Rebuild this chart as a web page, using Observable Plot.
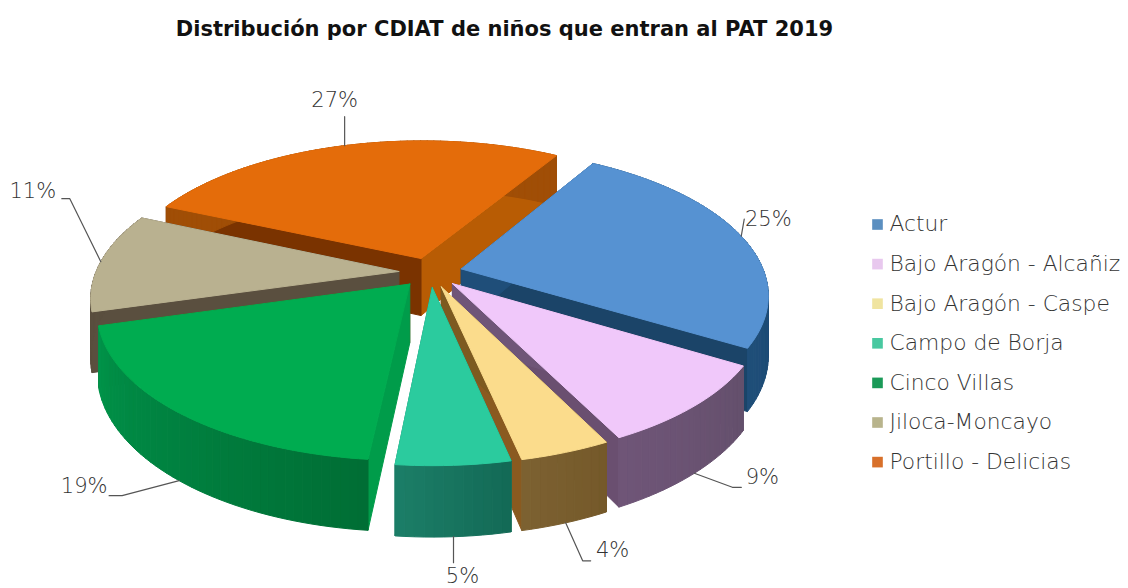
<!DOCTYPE html>
<html>
<head>
<meta charset="utf-8">
<script src="https://cdn.jsdelivr.net/npm/d3@7"></script>
<script src="https://cdn.jsdelivr.net/npm/@observablehq/plot@0.6"></script>
<style>html,body{margin:0;padding:0;background:#fff;overflow:hidden}svg{display:block}</style>
</head>
<body>
<div id="chart"></div>
<script>
const titleText = "Distribución por CDIAT de niños que entran al PAT 2019";
const categories = ["Actur","Bajo Aragón - Alcañiz","Bajo Aragón - Caspe","Campo de Borja","Cinco Villas","Jiloca-Moncayo","Portillo - Delicias"];
const percents = [25,9,4,5,19,11,27];
const topColors = ["#5692d2","#f0c8fa","#fbdc8c","#2bcb9e","#00ac50","#b9b190","#e46c0a"];
const legendColors = ["#5b8fc0","#e8c8ee","#f0e4a0","#48c8a0","#1a9a58","#b8b48c","#d8702a"];
const rimStart = ["#1f4e79","#6f5578","#7d6232","#1c7f68","#00944a","#5a4f3f","#a04e06"];
const rimEnd = ["#1a4468","#64506c","#75592a","#136a56","#006e35","#5a4f3f","#a04e06"];
const startFaces = ["#1f4e79","#6f5578","#7d5a20","#1c7f68","#009c4a","#5a4f3f","#7a3300"];
const endFaces = ["#1b4468","#6a4f70","#8a5a20","#1c7f68","#7a3a10","#584e42","#b85c04"];
const paintOrder = ["Portillo - Delicias","Jiloca-Moncayo","Actur","Bajo Aragón - Alcañiz","Cinco Villas","Bajo Aragón - Caspe","Campo de Borja"];
// leader layout: offsets from each slice's rim anchor, in pixels
const labelDx = [27,68,47,9,-95,-68,-10];
const labelDy = [-17,4,27,40,6,-70,-45];
const elbowDx = [3,38,17,0,-57,-31,0];
const elbowDy = [-17,14,38,26,15,-63,-29];
const stubDx = [0,9,8,0,-13,-8,0];

const W = 1128, H = 588;
const cx = 430, cy = 272, Rx = 303, Ry = 142, persp = 0.17, explode = 0.105, depth = 58;
const startAngle = 31 * Math.PI / 180;

const total = d3.sum(percents);
let acc = startAngle;
const slices = categories.map((name, i) => {
  const a0 = acc, a1 = acc + percents[i] / total * 2 * Math.PI;
  acc = a1;
  return {i, name, a0, a1, mid: (a0 + a1) / 2};
});
function proj(s, a, r, z) {
  const X = explode * Math.sin(s.mid) + r * Math.sin(a);
  const Y = -explode * Math.cos(s.mid) - r * Math.cos(a);
  const w = 1 - persp * Y;
  return [cx + Rx * X / w, cy + Ry * Y / w + z * depth / w];
}
const polys = [];
let pid = 0;
function addPoly(pts, color) {
  const id = pid++;
  [...pts, pts[0]].forEach(([x, y]) => polys.push({id, x, y, color}));
}
for (const name of paintOrder) {
  const s = slices.find(d => d.name === name), i = s.i;
  const n = Math.ceil((s.a1 - s.a0) / (1.5 * Math.PI / 180));
  const ang = d3.range(n + 1).map(j => s.a0 + (s.a1 - s.a0) * j / n);
  addPoly([proj(s,0,0,0), proj(s,s.a1,1,0), proj(s,s.a1,1,1), proj(s,0,0,1)], endFaces[i]);
  addPoly([proj(s,0,0,0), proj(s,s.a0,1,0), proj(s,s.a0,1,1), proj(s,0,0,1)], startFaces[i]);
  const shade = d3.interpolateRgb(rimEnd[i], rimStart[i]);
  for (let j = 0; j < n; j++) {
    addPoly([proj(s,ang[j],1,0), proj(s,ang[j+1],1,0), proj(s,ang[j+1],1,1), proj(s,ang[j],1,1)], shade(j / n));
  }
  addPoly([proj(s,0,0,0), ...ang.map(a => proj(s,a,1,0))], topColors[i]);
}
const leaders = [], labels = [];
slices.forEach(s => {
  const i = s.i;
  const front = Math.cos(s.mid) < -0.2;
  const [ax, ay] = proj(s, s.mid, 1, front ? 1 : 0);
  const ex = ax + elbowDx[i], ey = ay + elbowDy[i];
  leaders.push({i, x: ax, y: ay}, {i, x: ex, y: ey}, {i, x: ex + stubDx[i], y: ey});
  labels.push({x: ax + labelDx[i], y: ay + labelDy[i], text: percents[i] + "%"});
});
const legend = categories.map((name, i) => ({name, color: legendColors[i], y: 224 + i * 39.6}));

const plot = Plot.plot({
  width: W, height: H, margin: 0,
  x: {domain: [0, W], range: [0, W], axis: null},
  y: {domain: [0, H], range: [0, H], axis: null},
  color: {type: "identity"},
  style: {background: "#fff"},
  marks: [
    Plot.line(polys, {x: "x", y: "y", z: "id", fill: "color", stroke: "color", strokeWidth: 1, curve: "linear"}),
    Plot.line(leaders, {x: "x", y: "y", z: "i", stroke: "#555", strokeWidth: 1.2}),
    Plot.text(labels, {x: "x", y: "y", text: "text", fontSize: 21, fontFamily: "DejaVu Sans", fontWeight: 200, fill: "#333"}),
    Plot.text([titleText], {x: () => 504, y: () => 29, text: d => d, fontSize: 21, fontWeight: "bold", fontFamily: "DejaVu Sans", fill: "#111"}),
    Plot.dot(legend, {x: () => 877, y: "y", symbol: "square", r: 6, fill: "color"}),
    Plot.text(legend, {x: () => 889, y: "y", text: "name", textAnchor: "start", fontSize: 21.8, fontFamily: "DejaVu Sans", fontWeight: 200, fill: "#333"})
  ]
});
document.getElementById("chart").appendChild(plot);
</script>
</body>
</html>
